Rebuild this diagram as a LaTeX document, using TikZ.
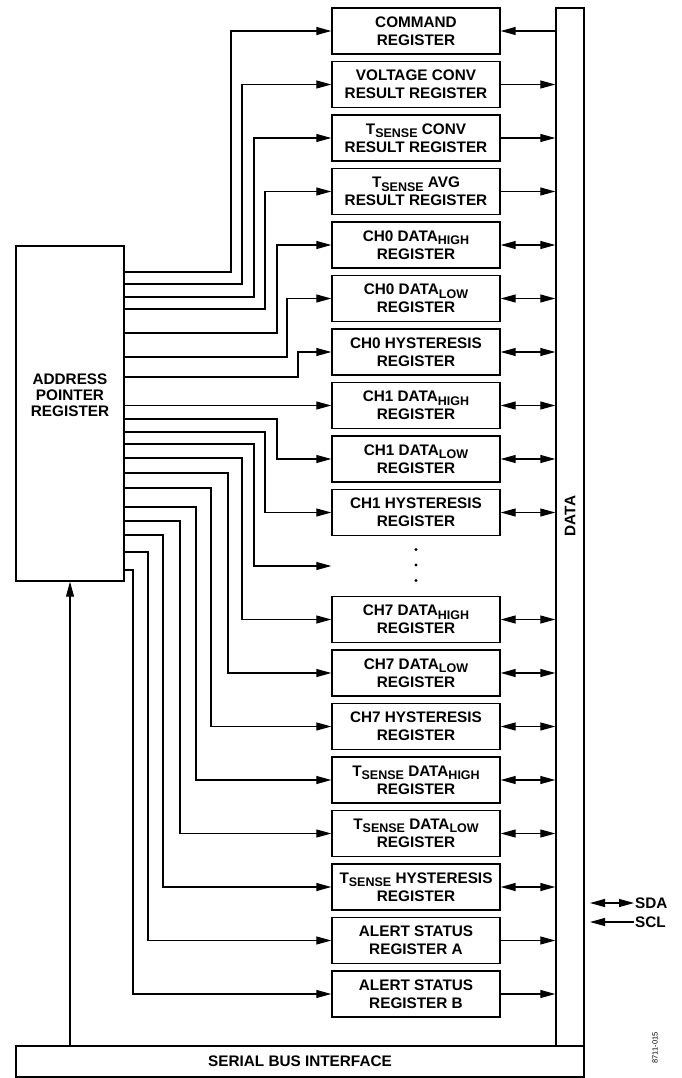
\documentclass[tikz,border=0pt]{standalone}
\usepackage{fontspec}
\setmainfont{Liberation Sans}
\usetikzlibrary{arrows.meta,positioning}

\newcommand{\lowsub}[1]{\raisebox{-0.4ex}{\fontsize{12.5}{12}\selectfont #1}}

\begin{document}
\begin{tikzpicture}[
  x=1pt, y=-1pt,
  node distance=6.1pt,
  reg/.style={draw, line width=1.4pt, minimum width=168pt, minimum height=46pt,
              inner sep=1pt, align=center,
              font=\bfseries\fontsize{15.3}{18}\selectfont},
  bigbox/.style={draw, line width=1.4pt, inner sep=0pt,
                 font=\bfseries\fontsize{15.3}{17}\selectfont},
  txt/.style={inner sep=1pt, align=center, font=\bfseries\fontsize{15.3}{16}\selectfont},
  arr/.style={draw, line width=1.1pt, -{Triangle[length=15pt,width=8pt]}},
  dbl/.style={draw, line width=1.1pt,
              {Triangle[length=15pt,width=8pt]}-{Triangle[length=15pt,width=8pt]}}
]
\useasboundingbox (0,0) rectangle (681,1078);

% register stack
\node[reg] (r1) at (416,31) {COMMAND\\REGISTER};
\node[reg, below=of r1] (r2) {VOLTAGE CONV\\RESULT REGISTER};
\node[reg, below=of r2] (r3) {T\lowsub{SENSE} CONV\\RESULT REGISTER};
\node[reg, below=of r3] (r4) {T\lowsub{SENSE} AVG\\RESULT REGISTER};
\node[reg, below=of r4] (r5) {CH0 DATA\lowsub{HIGH}\\REGISTER};
\node[reg, below=of r5] (r6) {CH0 DATA\lowsub{LOW}\\REGISTER};
\node[reg, below=of r6] (r7) {CH0 HYSTERESIS\\REGISTER};
\node[reg, below=of r7] (r8) {CH1 DATA\lowsub{HIGH}\\REGISTER};
\node[reg, below=of r8] (r9) {CH1 DATA\lowsub{LOW}\\REGISTER};
\node[reg, below=of r9] (r10) {CH1 HYSTERESIS\\REGISTER};
\coordinate (r11) at ([yshift=-53.5pt]r10.west);
\node[reg, below=59.6pt of r10] (r12) {CH7 DATA\lowsub{HIGH}\\REGISTER};
\node[reg, below=of r12] (r13) {CH7 DATA\lowsub{LOW}\\REGISTER};
\node[reg, below=of r13] (r14) {CH7 HYSTERESIS\\REGISTER};
\node[reg, below=of r14] (r15) {T\lowsub{SENSE} DATA\lowsub{HIGH}\\REGISTER};
\node[reg, below=of r15] (r16) {T\lowsub{SENSE} DATA\lowsub{LOW}\\REGISTER};
\node[reg, below=of r16] (r17) {T\lowsub{SENSE} HYSTERESIS\\REGISTER};
\node[reg, below=of r17] (r18) {ALERT STATUS\\REGISTER A};
\node[reg, below=of r18] (r19) {ALERT STATUS\\REGISTER B};

% vertical dots in the gap
\foreach \dy in {549.5,565,580.5}
  \fill (416,\dy) circle (1.6pt);

% address pointer, data bus, serial interface
\node[bigbox, minimum width=108pt, minimum height=335pt] (apr) at (70,413.5) {};
\node[txt] (aprtxt) at (70,395) {ADDRESS\\POINTER\\REGISTER};
\node[bigbox, minimum width=28pt, minimum height=1038pt] (bus) at (570,527) {};
\node[txt, rotate=90] (datatxt) at (570,516) {DATA};
\node[bigbox, minimum width=568pt, minimum height=31pt] (sbi) at (300,1061.5)
  {SERIAL BUS INTERFACE};

% pointer lines
\foreach \i/\ey/\vx in {1/272/231, 2/284/242, 3/297/254, 4/309/265,
    5/333/277, 6/357/287, 7/377/298, 9/419/277, 10/432/265, 11/444/254,
    12/458/242, 13/473/228, 14/488/211, 15/507/196, 16/521/180,
    17/535/163, 18/552/148, 19/570/133}
  \draw[arr] (apr.east |- 0,\ey) -- (\vx,\ey) |- (r\i);
\draw[arr] (apr.east |- r8.west) -- (r8.west);
\draw[arr] (sbi.north -| apr.south) -- (apr.south);

% data lines
\draw[arr] (r1.east -| bus.west) -- (r1.east);
\foreach \i in {2,3,4,18,19}
  \draw[arr] (r\i.east) -- (r\i.east -| bus.west);
\foreach \i in {5,...,10,12,13,...,17}
  \draw[dbl] (r\i.east) -- (r\i.east -| bus.west);

% bus pins
\node[txt, anchor=west] (sda) at (634,903) {SDA};
\node[txt, anchor=west] (scl) at (634,922) {SCL};
\coordinate (sdapin) at (590,903);
\coordinate (sclpin) at (590,922);
\draw[dbl] (sdapin) -- (sda.west);
\draw[arr] (scl.west) -- (sclpin);

\node[rotate=90, inner sep=0pt, font=\fontsize{7.5}{8}\selectfont] (figno) at (655,1048) {8711-015};
\end{tikzpicture}
\end{document}
